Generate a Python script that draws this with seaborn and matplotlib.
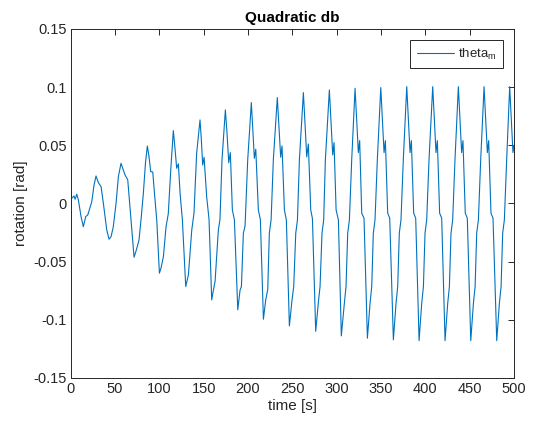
import matplotlib
matplotlib.use("Agg")
import matplotlib.pyplot as plt
import seaborn as sns
import pandas as pd

# ---- data ----
time_s = [0.5, 3.7, 4.9, 6.8, 8.6, 11.6, 14.2, 16.9, 19.2, 23.7, 26.3, 28.5, 31.1, 34.2, 36.8,
          40.6, 43.2, 45.5, 48, 51.1, 53.7, 56.7, 59.3, 61.2, 64.3, 67.7, 71.4, 74, 77, 79.5,
          81.9, 84.3, 86.4, 88.3, 90.2, 92.5, 94.5, 97, 100, 102, 104.5, 107.5, 110, 112.8,
          115.7, 117.5, 119.5, 121.4, 123.3, 125.9, 129.7, 132.7, 136.5, 139, 142, 145.8,
          147.3, 148.8, 150.4, 153.3, 156, 159, 160.8, 162.8, 166.5, 168.3, 170.6, 174.4,
          176.3, 178.2, 180, 182.3, 184.6, 188.4, 191, 192.5, 194.7, 196.6, 199.6, 203.7,
          207.1, 208.7, 211.6, 213.9, 217.3, 219.9, 222.2, 224, 226, 228.5, 233,
          236.8, 238.3, 241, 243.2, 246.6, 249.6, 251.5, 253.8, 255.7, 257.9, 262.4,
          266.2, 268, 270.7, 272.6, 276.3, 279.3, 281.2, 283.4, 285.3, 287.2, 291.7,
          295.5, 297, 299.3, 301.9, 305.2, 308.6, 310.5, 312.4, 314.3, 316.9, 320.7,
          324.4, 325.9, 328.2, 330.8, 334.6, 337.6, 339.5, 341.3, 343.2, 345.8, 349.7,
          353.4, 354.9, 357.5, 359.8, 363.9, 366.9, 368.8, 370.6, 372.5, 375.1, 379,
          382.7, 384.2, 386.8, 389.1, 392.9, 395.9, 397.8, 399.6, 401.5, 404.1, 408.3,
          412, 413.5, 416.1, 418.4, 422.2, 425.2, 427.1, 428.9, 430.8, 433.4, 437.2,
          440.9, 442.4, 445, 447.3, 451.2, 454.2, 456.1, 457.9, 459.8, 462.4, 466.2,
          469.9, 471.4, 474, 476.3, 480.5, 483.5, 485.4, 487.2, 489.1, 491.7, 495.1,
          498.8, 500]
theta_m = [0.004, 0.0064, 0.0036, 0.0079, 0.003, -0.0113, -0.020, -0.0113, -0.0099, 0.0015, 0.0159,
           0.0236, 0.0179, 0.0144, 0.0, -0.0228, -0.0308, -0.0285, -0.020, 0.0, 0.023, 0.0345,
           0.0288, 0.0245, 0.0202, -0.0113, -0.0463, -0.040, -0.0314, -0.012, 0.0088, 0.035,
           0.0494, 0.040, 0.0273, 0.027, 0.008, -0.0142, -0.060, -0.055, -0.0457, -0.020, -0.009,
           0.0288, 0.0626, 0.048, 0.0302, 0.034, 0.0088, -0.014, -0.0715, -0.0615, -0.0228,
           -0.0085, 0.043, 0.0718, 0.055, 0.033, 0.0397, 0.0059, -0.014, -0.083, -0.075, -0.067,
           -0.0228, -0.014, 0.0374, 0.0804, 0.06, 0.035, 0.0437, -0.0056, -0.0142, -0.0915,
           -0.0744, -0.0715, -0.0256, -0.0195, 0.0374, 0.0867,
           0.0388, 0.0466, -0.0056, -0.014, -0.0996, -0.083, -0.074, -0.0256, -0.014, 0.0374, 0.091,
           0.0397, 0.0494, -0.0056, -0.0142, -0.1053, -0.083, -0.0715, -0.0256, -0.0142, 0.0374, 0.0953,
           0.040, 0.0511, -0.0056, -0.013, -0.110, -0.085, -0.0715, -0.0256, -0.0142, 0.0374, 0.0976,
           0.0417, 0.0523, -0.0056, -0.0142, -0.1139, -0.086, -0.0715, -0.0256, -0.0142, 0.0374, 0.099,
           0.0437, 0.054, -0.0084, -0.0127, -0.1159, -0.0858, -0.0715, -0.0256, -0.0142, 0.0374, 0.0996,
           0.0437, 0.054, -0.0084, -0.0127, -0.1173, -0.0858, -0.0715, -0.0256, -0.0142, 0.0374, 0.1004,
           0.0437, 0.054, -0.0084, -0.0127, -0.118, -0.0858, -0.0715, -0.0256, -0.0142, 0.0374, 0.1004,
           0.0437, 0.054, -0.0084, -0.0127, -0.118, -0.0858, -0.0715, -0.0256, -0.0142, 0.0374, 0.1004,
           0.0437, 0.054, -0.0084, -0.0127, -0.118, -0.0858, -0.0715, -0.0256, -0.0142, 0.0374, 0.1004,
           0.0437, 0.054, -0.0084, -0.0127, -0.118, -0.0858, -0.0715, -0.0256, -0.0142, 0.0374, 0.1004,
           0.0437, 0.05]

x_ticks = [0, 50, 100, 150, 200, 250, 300, 350, 400, 450, 500]
y_ticks = [-0.15, -0.1, -0.05, 0, 0.05, 0.1, 0.15]
y_tick_labels = ['-0.15', '-0.1', '-0.05', '0', '0.05', '0.1', '0.15']

df = pd.DataFrame({"time": time_s, "theta": theta_m})

sns.set_style("white")
plt.rcParams['font.family'] = ['Liberation Sans', 'DejaVu Sans']
plt.rcParams['mathtext.fontset'] = 'custom'
plt.rcParams['mathtext.rm'] = 'Liberation Sans'

fig = plt.figure(figsize=(5.36, 4.26), dpi=100)
fig.patch.set_facecolor('white')
ax = fig.add_axes([0.132, 0.113, 0.827, 0.819])

sns.lineplot(data=df, x="time", y="theta", ax=ax, sort=False, estimator=None,
             color='#0072BD', linewidth=0.8, label=r'theta$_\mathregular{m}$')

ax.set_xlim(0, 500)
ax.set_ylim(-0.15, 0.15)
ax.set_xticks(x_ticks)
ax.set_xticklabels([str(v) for v in x_ticks])
ax.set_yticks(y_ticks)
ax.set_yticklabels(y_tick_labels)

dark = '#262626'
for sp in ax.spines.values():
    sp.set_visible(True)
    sp.set_color(dark)
    sp.set_linewidth(0.7)
ax.tick_params(direction='in', top=True, right=True, length=4, width=0.7,
               colors=dark, labelsize=10.5, pad=3)
for lbl in ax.get_xticklabels() + ax.get_yticklabels():
    lbl.set_color(dark)

ax.set_xlabel('time [s]', fontsize=11, color=dark, labelpad=2)
ax.set_ylabel('rotation [rad]', fontsize=11, color=dark, labelpad=4)
ax.set_title('Quadratic db', fontsize=11, fontweight='bold', color='black', pad=5)

leg = ax.legend(loc='upper right', fancybox=False, framealpha=1, edgecolor=dark,
                fontsize=9.5, handlelength=2.8, handletextpad=0.3, borderpad=0.5,
                borderaxespad=0.85)
leg.get_frame().set_linewidth(0.7)

fig.savefig('out.png', dpi=100, facecolor='white')
